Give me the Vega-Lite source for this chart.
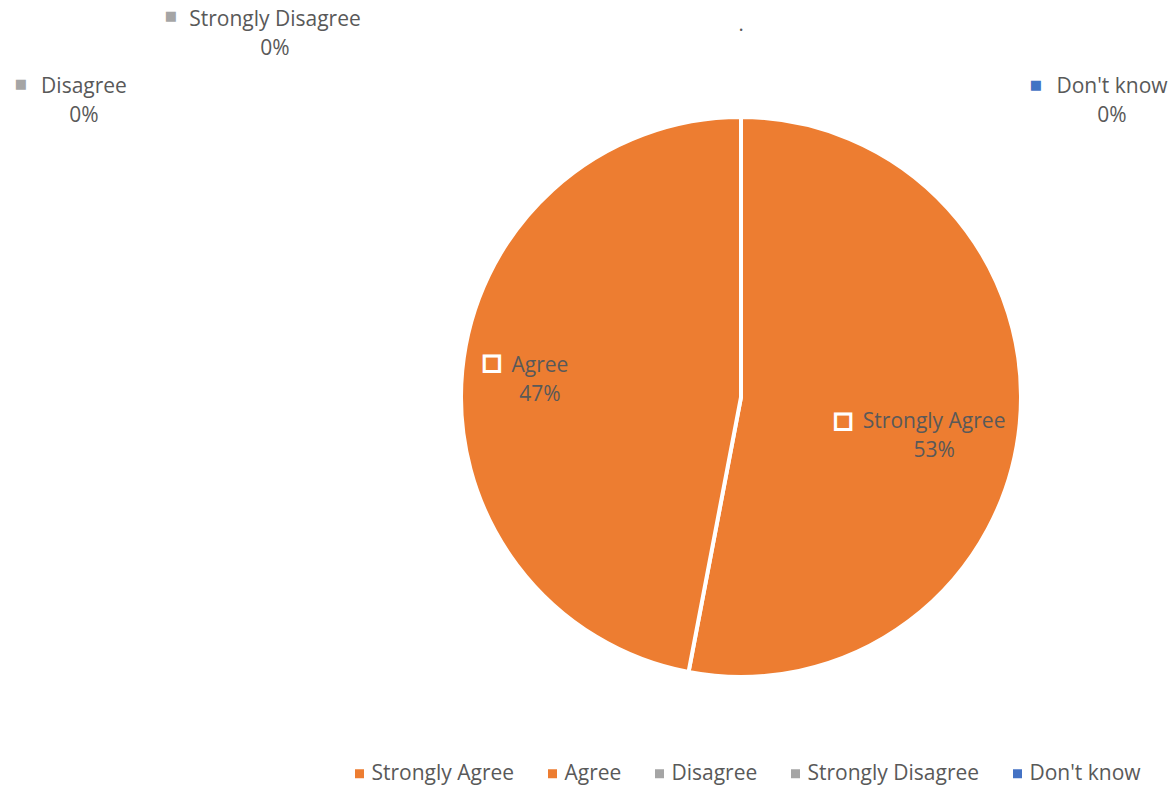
{
  "$schema": "https://vega.github.io/schema/vega-lite/v6.json",
  "width": 866,
  "height": 714,
  "autosize": "none",
  "padding": {"left": 308, "top": 40, "right": 0, "bottom": 34},
  "background": "white",
  "title": {"text": ".", "fontSize": 20, "font": "Open Sans", "fontWeight": "normal", "color": "#595959", "offset": -26, "anchor": "middle"},
  "data": {
    "values": [
      {"category": "Strongly Agree", "pct": 53, "rank": 1},
      {"category": "Agree", "pct": 47, "rank": 2},
      {"category": "Disagree", "pct": 0, "rank": 3},
      {"category": "Strongly Disagree", "pct": 0, "rank": 4},
      {"category": "Don't know", "pct": 0, "rank": 5}
    ]
  },
  "transform": [
    {"calculate": "datum.category + '\\n' + datum.pct + '%'", "as": "label"}
  ],
  "layer": [
    {
      "mark": {"type": "arc", "radius": 280, "stroke": "white", "strokeWidth": 4},
      "encoding": {
        "theta": {"field": "pct", "type": "quantitative", "stack": true},
        "order": {"field": "rank", "type": "quantitative"},
        "color": {
          "field": "category",
          "type": "nominal",
          "scale": {
            "domain": ["Strongly Agree", "Agree", "Disagree", "Strongly Disagree", "Don't know"],
            "range": ["#ED7D31", "#ED7D31", "#A5A5A5", "#A5A5A5", "#4472C4"]
          },
          "legend": {
            "orient": "none",
            "legendX": 41,
            "legendY": 723,
            "direction": "horizontal",
            "title": null,
            "symbolType": "square",
            "symbolSize": 81,
            "symbolStrokeWidth": 0,
            "labelFont": "Open Sans",
            "labelFontSize": 21,
            "labelColor": "#595959",
            "labelOffset": 1.5,
            "columnPadding": 27,
            "labelLimit": 300
          }
        }
      }
    },
    {
      "mark": {"type": "text", "radius": 200, "dx": -2, "dy": -6, "align": "center", "baseline": "alphabetic", "font": "Open Sans", "fontSize": 21, "color": "#595959", "lineBreak": "\n", "lineHeight": 29},
      "encoding": {
        "theta": {"field": "pct", "type": "quantitative", "stack": true},
        "order": {"field": "rank", "type": "quantitative"},
        "text": {"condition": {"test": "datum.category === 'Agree'", "field": "label"}, "value": ""}
      }
    },
    {
      "mark": {"type": "text", "radius": 200, "dx": -6, "dy": 12, "align": "center", "baseline": "alphabetic", "font": "Open Sans", "fontSize": 21, "color": "#595959", "lineBreak": "\n", "lineHeight": 29},
      "encoding": {
        "theta": {"field": "pct", "type": "quantitative", "stack": true},
        "order": {"field": "rank", "type": "quantitative"},
        "text": {"condition": {"test": "datum.category === 'Strongly Agree'", "field": "label"}, "value": ""}
      }
    },
    {
      "mark": {"type": "text", "radius": 280, "dx": -657, "dy": -24, "align": "center", "baseline": "alphabetic", "font": "Open Sans", "fontSize": 21, "color": "#595959", "lineBreak": "\n", "lineHeight": 29},
      "encoding": {
        "theta": {"field": "pct", "type": "quantitative", "stack": true},
        "order": {"field": "rank", "type": "quantitative"},
        "text": {"condition": {"test": "datum.category === 'Disagree'", "field": "label"}, "value": ""}
      }
    },
    {
      "mark": {"type": "text", "radius": 280, "dx": -466, "dy": -91, "align": "center", "baseline": "alphabetic", "font": "Open Sans", "fontSize": 21, "color": "#595959", "lineBreak": "\n", "lineHeight": 29},
      "encoding": {
        "theta": {"field": "pct", "type": "quantitative", "stack": true},
        "order": {"field": "rank", "type": "quantitative"},
        "text": {"condition": {"test": "datum.category === 'Strongly Disagree'", "field": "label"}, "value": ""}
      }
    },
    {
      "mark": {"type": "text", "radius": 280, "dx": 371, "dy": -24, "align": "center", "baseline": "alphabetic", "font": "Open Sans", "fontSize": 21, "color": "#595959", "lineBreak": "\n", "lineHeight": 29},
      "encoding": {
        "theta": {"field": "pct", "type": "quantitative", "stack": true},
        "order": {"field": "rank", "type": "quantitative"},
        "text": {"condition": {"test": "datum.category === \"Don't know\"", "field": "label"}, "value": ""}
      }
    },
    {
      "mark": {"type": "text", "radius": 200, "dx": -50, "dy": -15, "align": "center", "baseline": "middle", "font": "DejaVu Sans", "fontSize": 20, "color": "#ED7D31", "stroke": "white", "strokeWidth": 3},
      "encoding": {
        "theta": {"field": "pct", "type": "quantitative", "stack": true},
        "order": {"field": "rank", "type": "quantitative"},
        "text": {"condition": {"test": "datum.category === 'Agree'", "value": "■"}, "value": ""}
      }
    },
    {
      "mark": {"type": "text", "radius": 200, "dx": -97, "dy": 5, "align": "center", "baseline": "middle", "font": "DejaVu Sans", "fontSize": 20, "color": "#ED7D31", "stroke": "white", "strokeWidth": 3},
      "encoding": {
        "theta": {"field": "pct", "type": "quantitative", "stack": true},
        "order": {"field": "rank", "type": "quantitative"},
        "text": {"condition": {"test": "datum.category === 'Strongly Agree'", "value": "■"}, "value": ""}
      }
    },
    {
      "mark": {"type": "text", "radius": 280, "dx": -720, "dy": -33, "align": "center", "baseline": "middle", "font": "DejaVu Sans", "fontSize": 13, "color": "#A5A5A5"},
      "encoding": {
        "theta": {"field": "pct", "type": "quantitative", "stack": true},
        "order": {"field": "rank", "type": "quantitative"},
        "text": {"condition": {"test": "datum.category === 'Disagree'", "value": "■"}, "value": ""}
      }
    },
    {
      "mark": {"type": "text", "radius": 280, "dx": -570, "dy": -101, "align": "center", "baseline": "middle", "font": "DejaVu Sans", "fontSize": 13, "color": "#A5A5A5"},
      "encoding": {
        "theta": {"field": "pct", "type": "quantitative", "stack": true},
        "order": {"field": "rank", "type": "quantitative"},
        "text": {"condition": {"test": "datum.category === 'Strongly Disagree'", "value": "■"}, "value": ""}
      }
    },
    {
      "mark": {"type": "text", "radius": 280, "dx": 295, "dy": -32, "align": "center", "baseline": "middle", "font": "DejaVu Sans", "fontSize": 13, "color": "#4472C4"},
      "encoding": {
        "theta": {"field": "pct", "type": "quantitative", "stack": true},
        "order": {"field": "rank", "type": "quantitative"},
        "text": {"condition": {"test": "datum.category === \"Don't know\"", "value": "■"}, "value": ""}
      }
    }
  ],
  "config": {"view": {"stroke": null}}
}
